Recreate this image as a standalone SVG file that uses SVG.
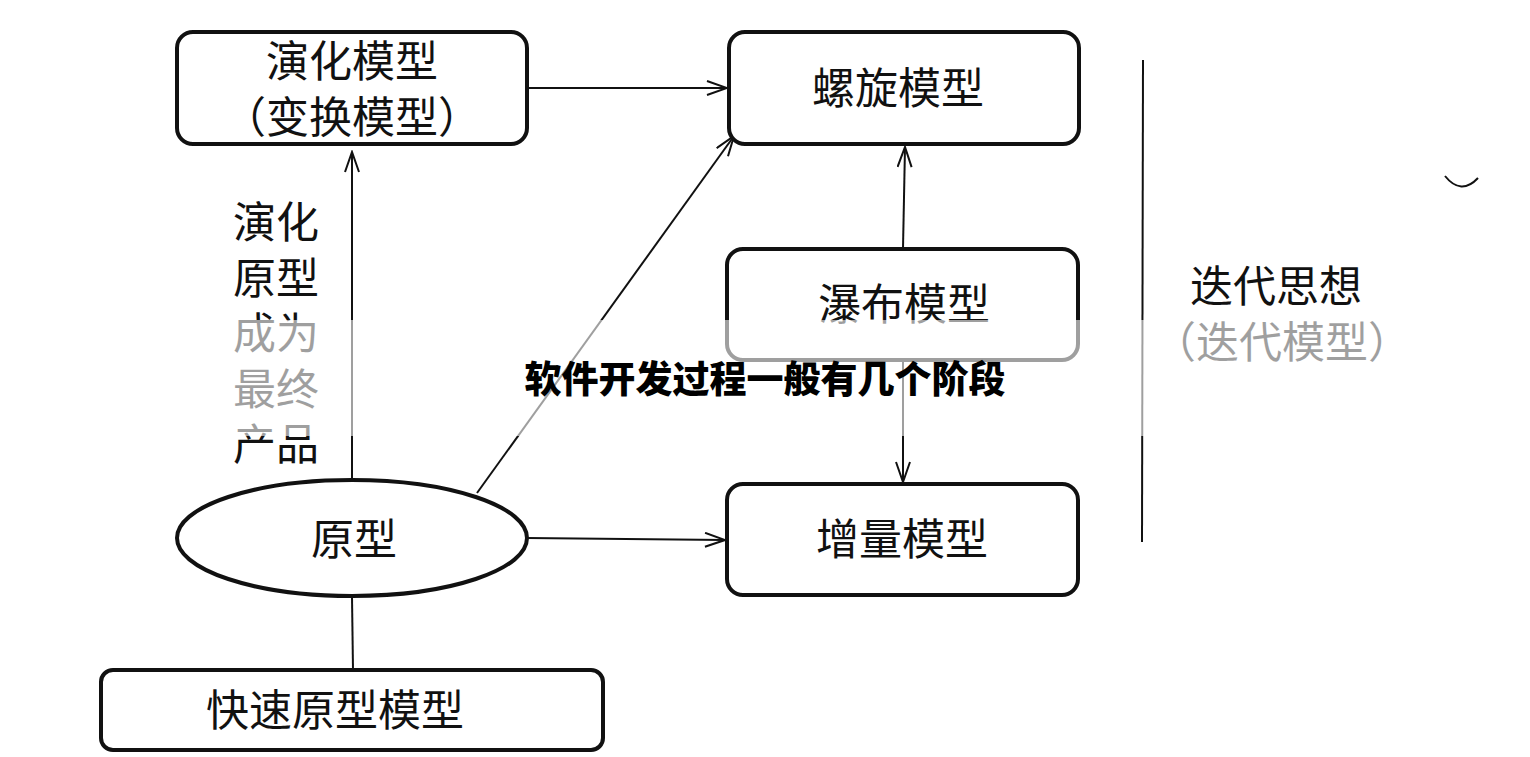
<svg xmlns="http://www.w3.org/2000/svg" width="1530" height="757" viewBox="0 0 1530 757">
<style>
.b{fill:#fff;stroke:#111;stroke-width:4}
.l{stroke:#111;stroke-width:2;fill:none}
.t{font-family:"Noto Sans CJK SC","Liberation Serif",serif;font-size:43px;fill:#111;text-anchor:middle}
</style>
<defs><marker id="a" markerWidth="24" markerHeight="16" refX="22" refY="8" orient="auto" markerUnits="userSpaceOnUse"><path d="M2,1 L22,8 L2,15" fill="none" stroke="#111" stroke-width="2"/></marker></defs>
<rect width="1530" height="757" fill="#fff"/>
<g id="connectors">
<line class="l" x1="527" y1="88" x2="727" y2="88" marker-end="url(#a)"/>
<line class="l" x1="352" y1="478" x2="352" y2="152" marker-end="url(#a)"/>
<line class="l" x1="477" y1="493" x2="734" y2="136" marker-end="url(#a)"/>
<line class="l" x1="527" y1="538" x2="725" y2="540" marker-end="url(#a)"/>
<line class="l" x1="903" y1="248" x2="905" y2="147" marker-end="url(#a)"/>
<line class="l" x1="903" y1="360" x2="903" y2="482" marker-end="url(#a)"/>
<line class="l" x1="352" y1="597" x2="353" y2="670"/>
<line class="l" x1="1143" y1="60" x2="1142" y2="542"/>
<path class="l" d="M1445,176 Q1461,196 1478,178" stroke-width="3"/>
</g>
<g id="n1"><rect class="b" x="177" y="32" width="350" height="112" rx="16"/><text class="t" x="352" y="77">演化模型</text><text class="t" x="352" y="133">（变换模型）</text></g>
<g id="n2"><rect class="b" x="729" y="32" width="350" height="112" rx="16"/><text class="t" x="898" y="104">螺旋模型</text></g>
<g id="n3"><rect class="b" x="727" y="249" width="351" height="111" rx="16"/><text class="t" x="904" y="320">瀑布模型</text></g>
<g id="n4"><rect class="b" x="727" y="484" width="351" height="111" rx="16"/><text class="t" x="902" y="555">增量模型</text></g>
<g id="n5"><ellipse class="b" cx="352" cy="538" rx="175" ry="58"/><text class="t" x="354" y="555">原型</text></g>
<g id="n6"><rect class="b" x="101" y="670" width="502" height="80" rx="12"/><text class="t" x="335" y="726">快速原型模型</text></g>
<g id="labels">
<text class="t" x="276" y="238">演化</text>
<text class="t" x="276" y="294">原型</text>
<text class="t" x="276" y="349">成为</text>
<text class="t" x="276" y="405">最终</text>
<text class="t" x="276" y="460">产品</text>
<text class="t" x="1276" y="302">迭代思想</text>
<text class="t" x="1282" y="358">（迭代模型）</text>
</g>
<rect x="226" y="320" width="1180" height="116" fill="#fff" opacity="0.6"/>
<text x="765" y="393" style="font-family:'Noto Sans CJK SC',sans-serif;font-weight:900;font-size:37px;text-anchor:middle;fill:#000">软件开发过程一般有几个阶段</text>
</svg>
